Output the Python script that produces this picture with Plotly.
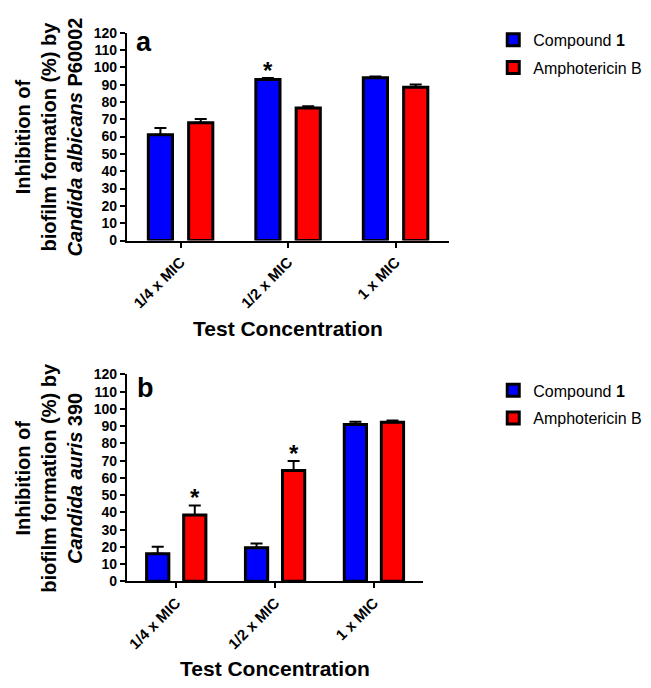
import plotly.graph_objects as go

# page size and the browser's default 8px body margin
PAGE_W, PAGE_H = 651, 688
BODY = 8
W, H = PAGE_W - BODY, PAGE_H - BODY

categories = ["1/4 x MIC", "1/2 x MIC", "1 x MIC"]
series_names = ["Compound <b>1</b>", "Amphotericin B"]
colors = ["#0000FF", "#FF0000"]

# Panel a: Candida albicans P60002
a_compound = [61, 93, 94]
a_compound_err = [4, 0.8, 0.7]
a_ampho = [68, 76.5, 88.5]
a_ampho_err = [2.2, 1.0, 1.5]
a_compound_star = [False, True, False]
a_ampho_star = [False, False, False]

# Panel b: Candida auris 390
b_compound = [16, 19.5, 91]
b_compound_err = [4, 2.5, 1.5]
b_ampho = [38.5, 64.3, 92.3]
b_ampho_err = [5.5, 5.5, 1.0]
b_compound_star = [False, False, False]
b_ampho_star = [True, True, False]

y_ticks = list(range(0, 121, 10))

FONT = "Liberation Sans, Arial, sans-serif"
BARGAP = 0.25
BARGROUPGAP = 0.40


def px_x(p):
    return (p - BODY) / W


def px_y(p):
    return 1 - (p - BODY) / H


fig = go.Figure()

panels = [
    dict(xa="x", ya="y", legend="legend",
         vals=[a_compound, a_ampho], errs=[a_compound_err, a_ampho_err],
         stars=[a_compound_star, a_ampho_star]),
    dict(xa="x2", ya="y2", legend="legend2",
         vals=[b_compound, b_ampho], errs=[b_compound_err, b_ampho_err],
         stars=[b_compound_star, b_ampho_star]),
]

annotations = []
slot = (1 - BARGAP) / 2
for pi, p in enumerate(panels):
    for si in range(2):
        fig.add_trace(go.Bar(
            x=categories, y=p["vals"][si], name=series_names[si],
            marker=dict(color=colors[si], line=dict(color="black", width=3)),
            error_y=dict(type="data", symmetric=False, array=p["errs"][si],
                         arrayminus=[0] * 3, color="black", thickness=2, width=6),
            xaxis=p["xa"], yaxis=p["ya"], legend=p["legend"],
            legendgroup=f"g{pi}{si}", offsetgroup=str(si),
        ))
        off = (si - 0.5) * slot
        for ci, flag in enumerate(p["stars"][si]):
            if flag:
                annotations.append(dict(
                    x=ci + off, y=p["vals"][si][ci] + p["errs"][si][ci],
                    xref=p["xa"], yref=p["ya"], text="<b>*</b>", showarrow=False,
                    yanchor="bottom", yshift=-8,
                    font=dict(size=24, color="black", family=FONT)))

axis_common = dict(showline=True, linecolor="black", linewidth=2, ticks="outside",
                   ticklen=5, tickwidth=2, tickcolor="black", showgrid=False,
                   zeroline=False, fixedrange=True)
yfont = dict(size=14, color="black", family=FONT, weight="bold")
xfont = dict(size=15, color="black", family=FONT, weight="bold")

xdom_a = [px_x(126), px_x(449)]
xdom_b = [px_x(126), px_x(423)]
ydom_a = [px_y(238), px_y(25)]
ydom_b = [px_y(587), px_y(375)]

legend_font = dict(size=16, color="black", family=FONT)
fig.update_layout(
    width=W, height=H,
    margin=dict(l=0, r=0, t=0, b=0),
    paper_bgcolor="white", plot_bgcolor="white",
    barmode="group", bargap=BARGAP, bargroupgap=BARGROUPGAP,
    font=dict(family=FONT, color="black"),
    xaxis=dict(domain=xdom_a, anchor="y", range=[-0.5, 2.5], tickangle=-45,
               type="category", tickfont=xfont, **axis_common),
    yaxis=dict(domain=ydom_a, anchor="x", range=[0, 120], tickvals=y_ticks,
               tickfont=yfont, **axis_common),
    xaxis2=dict(domain=xdom_b, anchor="y2", range=[-0.5, 2.5], tickangle=-45,
                type="category", tickfont=xfont, **axis_common),
    yaxis2=dict(domain=ydom_b, anchor="x2", range=[0, 120], tickvals=y_ticks,
                tickfont=yfont, **axis_common),
    legend=dict(x=px_x(493), y=px_y(15), xanchor="left", yanchor="top",
                font=legend_font, tracegroupgap=4, bgcolor="rgba(0,0,0,0)"),
    legend2=dict(x=px_x(493), y=px_y(374), xanchor="left", yanchor="top",
                 font=legend_font, tracegroupgap=4, bgcolor="rgba(0,0,0,0)"),
    showlegend=True,
)

title_font = dict(size=20, color="black", family=FONT)
annotations += [
    dict(text="<b>Inhibition of<br>biofilm formation (%) by<br><i>Candida albicans</i> P60002</b>",
         x=px_x(48), y=px_y(131.5), xref="paper", yref="paper", textangle=-90,
         xanchor="center", yanchor="middle", showarrow=False, font=title_font),
    dict(text="<b>Inhibition of<br>biofilm formation (%) by<br><i>Candida auris</i> 390</b>",
         x=px_x(48), y=px_y(481), xref="paper", yref="paper", textangle=-90,
         xanchor="center", yanchor="middle", showarrow=False, font=title_font),
    dict(text="<b>Test Concentration</b>", x=px_x(287.5), y=px_y(328),
         xref="paper", yref="paper", xanchor="center", yanchor="middle",
         showarrow=False, font=dict(size=21, color="black", family=FONT)),
    dict(text="<b>Test Concentration</b>", x=px_x(274.5), y=px_y(676),
         xref="paper", yref="paper", xanchor="center", yanchor="middle",
         showarrow=False, font=dict(size=21, color="black", family=FONT)),
    dict(text="<b>a</b>", x=px_x(133), y=px_y(35), xref="paper", yref="paper",
         xanchor="left", yanchor="middle", showarrow=False,
         font=dict(size=27, color="black", family=FONT)),
    dict(text="<b>b</b>", x=px_x(134), y=px_y(389), xref="paper", yref="paper",
         xanchor="left", yanchor="middle", showarrow=False,
         font=dict(size=27, color="black", family=FONT)),
]
fig.update_layout(annotations=annotations)

fig.write_html("out.html")
